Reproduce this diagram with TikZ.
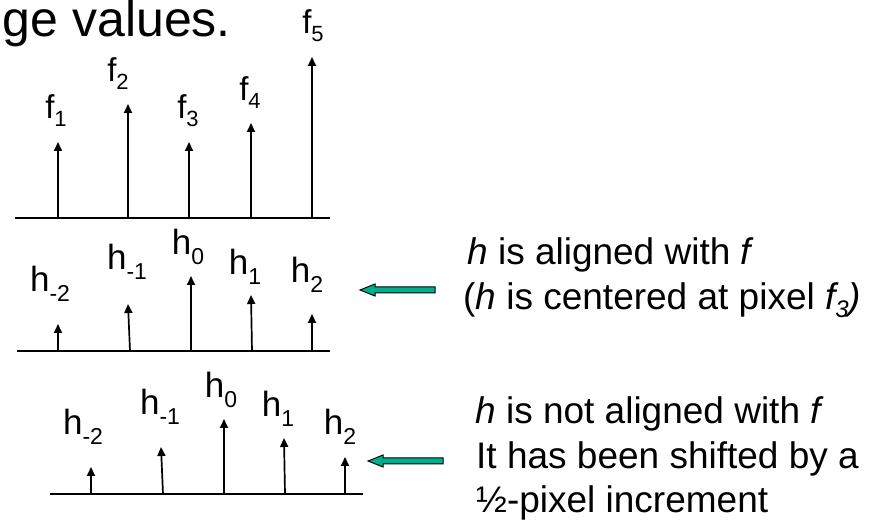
\documentclass[tikz,border=0pt]{standalone}
\usepackage{fontspec}
\setmainfont{Liberation Sans}
\usetikzlibrary{arrows.meta}
\definecolor{arrowgreen}{RGB}{0,176,140}
% subscripts for the f and h sample labels
\newcommand\fsub[1]{\raisebox{-8pt}{\fontsize{22}{22}\selectfont #1}}
\newcommand\hsub[1]{\raisebox{-10pt}{\fontsize{23}{23}\selectfont #1}}
\newcommand\tsub[1]{\raisebox{-8pt}{\fontsize{24}{24}\selectfont #1}}
\begin{document}
\begin{tikzpicture}[x=1pt,y=-1pt,
  axis/.style={line width=2.2pt},
  stem/.style={line width=1.7pt,-{Triangle[length=9pt,width=8pt]}},
  flab/.style={anchor=base,inner sep=0pt,font=\fontsize{33}{33}\selectfont},
  hlab/.style={anchor=base,inner sep=0pt,font=\fontsize{35}{35}\selectfont},
  note/.style={anchor=base west,inner sep=0pt,font=\fontsize{37}{44}\selectfont},
  garrow/.style={draw=black,line width=1pt,fill=arrowgreen,line join=miter}]
\useasboundingbox (0,0) rectangle (871,521);

% heading fragment
\node[anchor=base east,inner sep=0pt,font=\fontsize{50}{50}\selectfont] (title) at (231,37) {ge values.};

% ---- image samples f ----
\coordinate (fa0) at (15,218);
\coordinate (fa1) at (330,218);
\draw[axis] (fa0) -- (fa1);
\foreach \i/\x/\t in {1/58/142, 2/128/104, 3/189/142, 4/251/123, 5/312/57}{
  \coordinate (fb\i) at (\x,218);
  \coordinate (ft\i) at (\x,\t);
  \draw[stem] (fb\i) -- (ft\i);
}
\node[flab] (f1) at (56,119) {f\fsub{1}};
\node[flab] (f2) at (118,82) {f\fsub{2}};
\node[flab] (f3) at (188,119) {f\fsub{3}};
\node[flab] (f4) at (250,101) {f\fsub{4}};
\node[flab] (f5) at (313,34) {f\fsub{5}};

% ---- kernel h, aligned ----
\begin{scope}
\coordinate (ha0) at (17,351);
\coordinate (ha1) at (330,351);
\draw[axis] (ha0) -- (ha1);
\foreach \i/\xb/\xt/\t in {m2/58/58/324, m1/130/128/304, z/191/191/276, p1/252/251/295, p2/312/312/314}{
  \coordinate (hb\i) at (\xb,351);
  \coordinate (ht\i) at (\xt,\t);
  \draw[stem] (hb\i) -- (ht\i);
}
\node[hlab] (hm2) at (50,292) {h\hsub{-2}};
\node[hlab] (hm1) at (127,270) {h\hsub{-1}};
\node[hlab] (hz)  at (188,255) {h\hsub{0}};
\node[hlab] (hp1) at (245,275) {h\hsub{1}};
\node[hlab] (hp2) at (307,283) {h\hsub{2}};
\end{scope}

% ---- kernel h, shifted by half a pixel ----
\begin{scope}[shift={(33,143)}]
\coordinate (sa0) at (17,351);
\coordinate (sa1) at (330,351);
\draw[axis] (sa0) -- (sa1);
\foreach \i/\xb/\xt/\t in {m2/58/58/324, m1/130/128/304, z/191/191/276, p1/252/251/295, p2/312/312/314}{
  \coordinate (sb\i) at (\xb,351);
  \coordinate (st\i) at (\xt,\t);
  \draw[stem] (sb\i) -- (st\i);
}
\node[hlab] (sm2) at (50,292) {h\hsub{-2}};
\node[hlab] (sm1) at (127,272) {h\hsub{-1}};
\node[hlab] (sz)  at (188,255) {h\hsub{0}};
\node[hlab] (sp1) at (245,274) {h\hsub{1}};
\node[hlab] (sp2) at (307,292) {h\hsub{2}};
\end{scope}

% ---- pointer arrows ----
\coordinate (g1) at (360,290);
\draw[garrow] (g1) -- ++(15,-6) -- ++(0,3) -- ++(60,0) -- ++(0,6) -- ++(-60,0) -- ++(0,3) -- cycle;
\coordinate (g2) at (368,461);
\draw[garrow] (g2) -- ++(15,-6) -- ++(0,3) -- ++(60,0) -- ++(0,6) -- ++(-60,0) -- ++(0,3) -- cycle;

% ---- notes ----
\node[note] (n1) at (467,265) {\textit{h} is aligned with \textit{f}};
\node[note] (n2) at (463,310) {(\textit{h} is centered at pixel \textit{f\tsub{3})}};
\node[note] (n3) at (475,424) {\textit{h} is not aligned with \textit{f}};
\node[note] (n4) at (476,468) {It has been shifted by a};
\node[note] (n5) at (476,512) {½-pixel increment};
\end{tikzpicture}
\end{document}
